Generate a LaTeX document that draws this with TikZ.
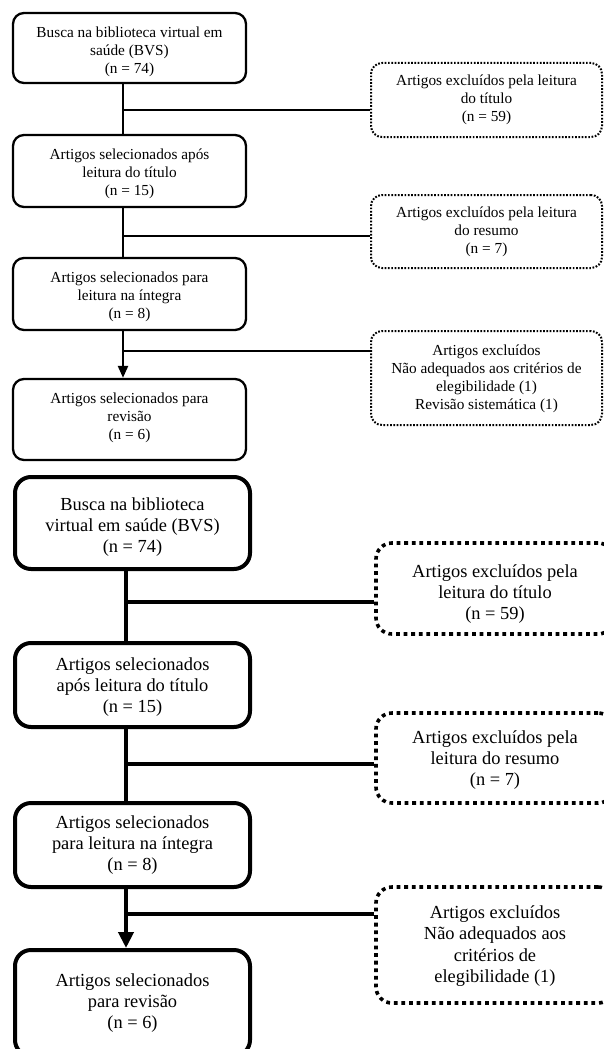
\documentclass[tikz,border=0pt]{standalone}
\usepackage{fontspec}
\setmainfont{Liberation Serif}
\usetikzlibrary{arrows.meta}
\begin{document}
\begin{tikzpicture}[x=1pt,y=-1pt,
  sbox/.style={draw, line width=2.3pt, rounded corners=11pt, inner sep=0pt},
  sdot/.style={draw, line width=2pt, dash pattern=on 1.7pt off 1.6pt, rounded corners=11pt, inner sep=0pt},
  bbox/.style={draw, line width=4pt, rounded corners=16pt, inner sep=0pt},
  bdot/.style={draw, line width=3.6pt, dash pattern=on 3.8pt off 3.8pt, rounded corners=16pt, inner sep=0pt},
  stxt/.style={align=center, inner sep=0pt, font=\fontsize{15.3}{18}\selectfont},
  btxt/.style={align=center, inner sep=0pt, font=\fontsize{18.4}{21.3}\selectfont},
  sline/.style={line width=2.3pt},
  bline/.style={line width=4pt},
]
\useasboundingbox (0,0) rectangle (603,1049);

% ---------- small flowchart ----------
\node[sbox, minimum width=233pt, minimum height=70pt] (t1) at (129.5,48) {};
\node[sbox, minimum width=233pt, minimum height=72pt] (t2) at (129.5,171) {};
\node[sbox, minimum width=233pt, minimum height=72pt] (t3) at (129.5,294) {};
\node[sbox, minimum width=233pt, minimum height=81pt] (t4) at (129.5,419.5) {};
\node[stxt] (t1t) at (129.5,52) {Busca na biblioteca virtual em\\saúde (BVS)\\(n = 74)};
\node[stxt] (t2t) at (129.5,174) {Artigos selecionados após\\leitura do título\\(n = 15)};
\node[stxt] (t3t) at (129.5,297) {Artigos selecionados para\\leitura na íntegra\\(n = 8)};
\node[stxt] (t4t) at (129.5,418) {Artigos selecionados para\\revisão\\(n = 6)};

\node[sdot, minimum width=231pt, minimum height=74pt] (r1) at (486.5,100) {};
\node[sdot, minimum width=231pt, minimum height=73pt] (r2) at (486.5,231.5) {};
\node[sdot, minimum width=231pt, minimum height=94pt] (r3) at (486.5,378) {};
\node[stxt] (r1t) at (486.5,100) {Artigos excluídos pela leitura\\do título\\(n = 59)};
\node[stxt] (r2t) at (486.5,232) {Artigos excluídos pela leitura\\do resumo\\(n = 7)};
\node[stxt] (r3t) at (486.5,378.5) {Artigos excluídos\\Não adequados aos critérios de\\elegibilidade (1)\\Revisão sistemática (1)};

\coordinate (va) at (123,0);
\coordinate (ja) at (123,110);
\coordinate (jb) at (123,236);
\coordinate (jc) at (123,351);
\draw[sline] (t1.south -| va) -- (t2.north -| va);
\draw[sline] (t2.south -| va) -- (t3.north -| va);
\draw[sline, -{Triangle[length=12pt,width=10pt]}] (t3.south -| va) -- (t4.north -| va);
\draw[sline] (ja) -- (ja -| r1.west);
\draw[sline] (jb) -- (jb -| r2.west);
\draw[sline] (jc) -- (jc -| r3.west);

% ---------- large flowchart ----------
\node[bbox, minimum width=235pt, minimum height=92pt] (b1) at (132.5,523) {};
\node[bbox, minimum width=235pt, minimum height=84pt] (b2) at (132.5,685) {};
\node[bbox, minimum width=235pt, minimum height=84pt] (b3) at (132.5,845) {};
\node[bbox, minimum width=235pt, minimum height=106pt] (b4) at (132.5,1003) {};
\node[btxt] (b1t) at (132.5,527) {Busca na biblioteca\\virtual em saúde (BVS)\\(n = 74)};
\node[btxt] (b2t) at (132.5,687) {Artigos selecionados\\após leitura do título\\(n = 15)};
\node[btxt] (b3t) at (132.5,845) {Artigos selecionados\\para leitura na íntegra\\(n = 8)};
\node[btxt] (b4t) at (132.5,1003) {Artigos selecionados\\para revisão\\(n = 6)};

\node[bdot, minimum width=238pt, minimum height=91pt] (q1) at (495,588.5) {};
\node[bdot, minimum width=238pt, minimum height=90pt] (q2) at (495,758) {};
\node[bdot, minimum width=238pt, minimum height=116pt] (q3) at (495,945) {};
\node[btxt] (q1t) at (495,594) {Artigos excluídos pela\\leitura do título\\(n = 59)};
\node[btxt] (q2t) at (495,760) {Artigos excluídos pela\\leitura do resumo\\(n = 7)};
\node[btxt] (q3t) at (495,946) {Artigos excluídos\\Não adequados aos\\critérios de\\elegibilidade (1)};

\coordinate (vb) at (126,0);
\coordinate (jd) at (126,602);
\coordinate (je) at (126,764);
\coordinate (jf) at (126,914);
\draw[bline] (b1.south -| vb) -- (b2.north -| vb);
\draw[bline] (b2.south -| vb) -- (b3.north -| vb);
\draw[bline, -{Triangle[length=16pt,width=15pt]}] (b3.south -| vb) -- (b4.north -| vb);
\draw[bline] (jd) -- (jd -| q1.west);
\draw[bline] (je) -- (je -| q2.west);
\draw[bline] (jf) -- (jf -| q3.west);
\end{tikzpicture}
\end{document}
